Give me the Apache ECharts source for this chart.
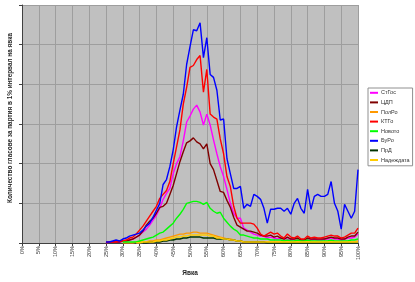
<!DOCTYPE html>
<html><head><meta charset="utf-8">
<script src="https://cdn.jsdelivr.net/npm/echarts@6/dist/echarts.min.js"></script>
<style>html,body{margin:0;padding:0;background:#fff}#c{width:415px;height:282px}</style>
</head><body><div id="c"></div>
<script>
// categories: turnout 0%..100%
const categories = Array.from({length:101}, (_, i) => i + '%');
const seriesNames = ['СтГос','ЦДП','ПолРо','КТГо','Новото','БуРо','ПрД','Надеждата'];
const yTitle = 'Количество гласове за партия в 1% интервал на явка';
const xTitle = 'Явка';

// values from index 25 (25%) to 100 (100%); earlier points are empty
const stgos = [0,1,1,1,1,2,2,3,4,6,8,11,14,18,23,28,35,44,50,55,70,80,87,103,122,128,135,139,132,119,130,119,104,90,77,67,54,40,30,25,25,15,13,11,9,8,7,7,5,6,5,4,5,4,4,3,4,4,3,3,4,3,4,3,3,4,4,5,4,4,3,4,5,5,6,9];
const cdp = [0,1,1,1,1,2,2,3,4,6,8,12,18,22,25,30,36,37,40,49,58,70,82,92,101,103,106,102,100,95,100,80,74,63,52,51,43,36,26,18,16,14,12,12,11,10,8,7,7,8,6,7,5,4,6,4,4,5,3,3,5,4,4,4,4,4,5,6,5,5,4,4,6,7,7,11];
const polro = [null,null,null,null,null,0,0,0,0,1,1,1,1,2,2,3,3,4,5,6,7,8,9,9,10,10,11,11,10,10,10,9,8,7,6,5,4,4,3,2,2,1,1,1,1,1,1,1,1,1,1,1,1,1,1,1,1,1,1,1,1,1,1,1,1,1,1,1,1,1,1,1,1,1,1,2];
const ktg = [1,1,1,1,2,2,3,5,6,9,13,17,22,27,32,37,45,49,53,62,80,97,114,140,157,177,179,185,189,152,175,130,127,125,105,90,67,57,37,25,20,20,20,20,19,15,9,7,9,11,9,10,7,5,9,6,5,7,4,4,7,5,6,5,5,6,7,8,7,7,5,6,8,10,10,15];
const novoto = [null,null,null,null,null,1,1,1,1,1,2,3,4,5,6,8,10,11,14,17,20,25,29,34,40,41,42,42,41,39,41,35,32,30,31,25,21,17,14,12,8,8,7,6,5,5,4,4,4,3,3,3,3,2,3,2,2,3,2,2,3,2,2,2,2,2,2,3,2,2,2,2,2,3,3,4];
const buro = [1,1,2,3,2,4,5,7,8,9,10,13,17,20,26,33,40,59,64,77,94,117,134,150,180,198,215,214,222,187,207,170,167,154,124,125,85,70,55,55,57,35,39,37,49,47,44,35,20,34,34,35,35,32,35,29,40,45,35,30,54,34,47,49,47,47,49,62,40,32,14,39,32,25,32,74];
const prd = [null,null,null,null,null,null,null,null,null,null,null,0,0,1,1,1,1,2,2,3,3,4,4,5,5,6,6,6,6,5,5,5,5,4,4,4,4,3,3,2,2,1,1,1,1,1,1,1,0,0,0,0,0,0,0,0,0,0,0,0,0,0,0,0,0,0,0,0,0,0,0,0,0,0,0,0];
const nadezhda = [null,null,null,null,null,null,null,null,null,0,0,1,1,1,1,2,2,3,3,4,5,6,6,7,7,8,8,8,8,8,8,7,7,5,5,4,4,3,3,2,2,1,1,1,1,1,1,1,1,1,1,1,1,1,1,1,1,1,1,1,1,1,1,1,1,1,1,1,1,1,1,1,1,1,1,1];

const pad = arr => Array(25).fill(null).concat(arr);
const seriesData = [stgos, cdp, polro, ktg, novoto, buro, prd, nadezhda].map(pad);
const colors = ['#FF00FF','#800000','#FF9900','#FF0000','#00FF00','#0000FF','#003300','#FFCC00'];

const FONT = 'Liberation Sans';
const chart = echarts.init(document.getElementById('c'), null, {renderer:'canvas'});
chart.setOption({
  animation: false,
  backgroundColor: '#ffffff',
  grid: {left: 22, right: 57, top: 5, bottom: 35, show: true, backgroundColor: '#C0C0C0', borderWidth: 0},
  legend: {
    orient: 'vertical', left: 368, top: 88,
    data: seriesNames,
    backgroundColor: '#ffffff', borderColor: '#909090', borderWidth: 1,
    padding: [1, 3, 2, 2],
    itemWidth: 8, itemHeight: 2, itemGap: 2,
    icon: 'rect',
    textStyle: {fontFamily: FONT, fontSize: 5.5, color: '#333', lineHeight: 7.6, padding: [0,0,0,-2]}
  },
  xAxis: {
    type: 'category', data: categories, boundaryGap: false,
    name: xTitle, nameLocation: 'middle', nameGap: 27,
    nameTextStyle: {fontFamily: FONT, fontSize: 6.5, fontWeight: 'bold', color: '#222'},
    axisLine: {show: true, lineStyle: {color: '#404040', width: 1}},
    axisTick: {show: true, interval: 4, length: 3, lineStyle: {color: '#404040'}},
    axisLabel: {interval: 4, rotate: 90, fontFamily: FONT, fontSize: 5.5, color: '#333', margin: 3},
    splitLine: {show: true, interval: 4, lineStyle: {color: '#9E9E9E', width: 1}}
  },
  yAxis: {
    type: 'value', min: 0, max: 240, interval: 40,
    axisLine: {show: true, lineStyle: {color: '#404040', width: 1}},
    axisTick: {show: true, length: 3, lineStyle: {color: '#404040'}},
    axisLabel: {show: false},
    splitLine: {show: true, lineStyle: {color: '#9E9E9E', width: 1}}
  },
  graphic: [{
    type: 'text', x: 10, y: 118, rotation: Math.PI / 2,
    style: {text: yTitle, textAlign: 'center', textVerticalAlign: 'middle',
      font: 'bold 6.4px "Liberation Sans"', fill: '#222'}
  }],
  series: seriesNames.map((n, k) => ({
    name: n, type: 'line', data: seriesData[k], symbol: 'none',
    connectNulls: false,
    lineStyle: {color: colors[k], width: 1.4},
    itemStyle: {color: colors[k]}
  }))
});
</script></body></html>
